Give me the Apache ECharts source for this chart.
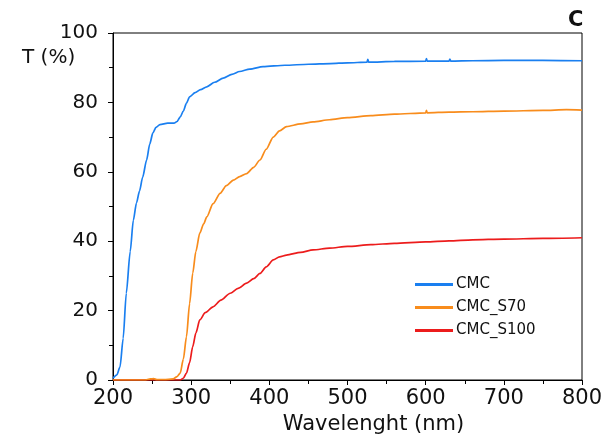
<!DOCTYPE html>
<html>
<head>
<meta charset="utf-8">
<script src="https://cdn.jsdelivr.net/npm/echarts@6/dist/echarts.min.js"></script>
<style>
  html, body { margin: 0; padding: 0; background: #fff; }
  #chart { width: 606px; height: 442px; }
</style>
</head>
<body>
<div id="chart"></div>
<script>
// transmittance spectra: [wavelength nm, T %]
const seriesNames = ['CMC', 'CMC_S70', 'CMC_S100'];

const cmc = [
  [200, 0.5], [205, 1.5], [209, 3.8], [213, 12], [217, 25], [222, 37], [226, 46],
  [230, 51], [234, 54.5], [238, 58.5], [243, 63.4], [247, 68], [251, 71.2], [255, 72.8],
  [260, 73.6], [270, 74], [278, 74], [282, 74.5], [286, 75.8], [290, 77.5], [294, 79.8],
  [298, 81.6], [305, 82.8], [312, 83.7], [320, 84.5], [330, 85.8], [341, 87],
  [352, 88.1], [362, 88.9], [375, 89.6], [392, 90.3], [420, 90.7], [450, 91],
  [478, 91.2], [500, 91.4], [525, 91.6], [526, 92.4], [527, 91.6], [560, 91.8],
  [600, 91.9], [601, 92.6], [602, 91.9], [630, 91.9], [631, 92.5], [632, 91.9],
  [660, 92], [700, 92.1], [750, 92.1], [800, 92]
];

const cmcS70 = [
  [200, 0], [240, 0], [248, 0.3], [252, 0.4], [256, 0.1], [265, 0.1], [277, 0.3],
  [282, 1], [286, 2], [290, 6], [294, 12.5], [298, 22], [302, 30.8], [306, 37],
  [311, 42.3], [316, 45], [320, 47], [328, 50.8], [337, 53.8], [345, 56], [354, 57.6],
  [362, 58.6], [371, 59.5], [380, 61.3], [388, 63.4], [396, 66.5], [405, 70],
  [413, 71.8], [422, 73], [440, 73.8], [456, 74.4], [477, 75], [500, 75.6],
  [530, 76.2], [560, 76.6], [600, 77], [601, 77.7], [602, 77], [630, 77.2],
  [660, 77.3], [700, 77.5], [750, 77.7], [780, 77.9], [800, 77.8]
];

const cmcS100 = [
  [200, 0], [270, 0], [286, 0], [290, 0.5], [294, 2], [298, 5], [302, 9.6],
  [306, 13.5], [311, 17.3], [318, 19.4], [328, 21.1], [338, 23], [350, 25],
  [360, 26.4], [371, 27.9], [380, 29.2], [388, 30.7], [396, 32.6], [405, 34.6],
  [413, 35.5], [422, 36], [440, 36.8], [456, 37.5], [477, 38], [500, 38.5],
  [530, 39], [560, 39.4], [600, 39.8], [630, 40.1], [660, 40.4], [700, 40.6],
  [750, 40.8], [800, 41]
];

const colors = ['#1a7ff0', '#f88c1c', '#ec1c1c'];
const font = '"DejaVu Sans", sans-serif';

const chart = echarts.init(document.getElementById('chart'));

chart.setOption({
  animation: false,
  backgroundColor: '#fff',
  grid: {
    left: 113, right: 24, top: 33, bottom: 62,
    show: true, borderColor: '#000', borderWidth: 1
  },
  legend: {
    data: seriesNames,
    orient: 'vertical',
    left: 410, top: 272,
    itemWidth: 38, itemHeight: 3, itemGap: 8,
    icon: 'rect',
    textStyle: { fontFamily: font, fontSize: 15, color: '#111', padding: [0, 0, 0, -2] }
  },
  xAxis: {
    type: 'value', min: 200, max: 800, interval: 100,
    name: 'Wavelenght (nm)', nameLocation: 'middle', nameGap: 33,
    nameTextStyle: { fontFamily: font, fontSize: 21, color: '#111', padding: [0, 0, 0, 52] },
    axisLine: { lineStyle: { color: '#000', width: 1 } },
    axisTick: { length: 5, lineStyle: { color: '#000' } },
    minorTick: { show: true, splitNumber: 2, length: 4, lineStyle: { color: '#000' } },
    splitLine: { show: false },
    axisLabel: { fontFamily: font, fontSize: 21, color: '#111', margin: 8 }
  },
  yAxis: {
    type: 'value', min: 0, max: 100, interval: 20,
    axisLine: { show: true, lineStyle: { color: '#000', width: 1 } },
    axisTick: { show: true, length: 5, lineStyle: { color: '#000' } },
    minorTick: { show: true, splitNumber: 2, length: 4, lineStyle: { color: '#000' } },
    splitLine: { show: false },
    axisLabel: { fontFamily: font, fontSize: 20, color: '#111', margin: 15 }
  },
  graphic: [
    { type: 'text', left: 22, top: 48, style: { text: 'T (%)', font: '20px ' + font, fill: '#111' } },
    { type: 'text', left: 568, top: 10, style: { text: 'C', font: 'bold 21px ' + font, fill: '#111' } }
  ],
  series: [cmc, cmcS70, cmcS100].map((d, i) => ({
    name: seriesNames[i],
    type: 'line',
    data: d,
    showSymbol: false,
    smooth: 0.25,
    smoothMonotone: 'x',
    color: colors[i],
    lineStyle: { width: 1.7, color: colors[i] },
    z: 3 - i
  }))
});
</script>
</body>
</html>
